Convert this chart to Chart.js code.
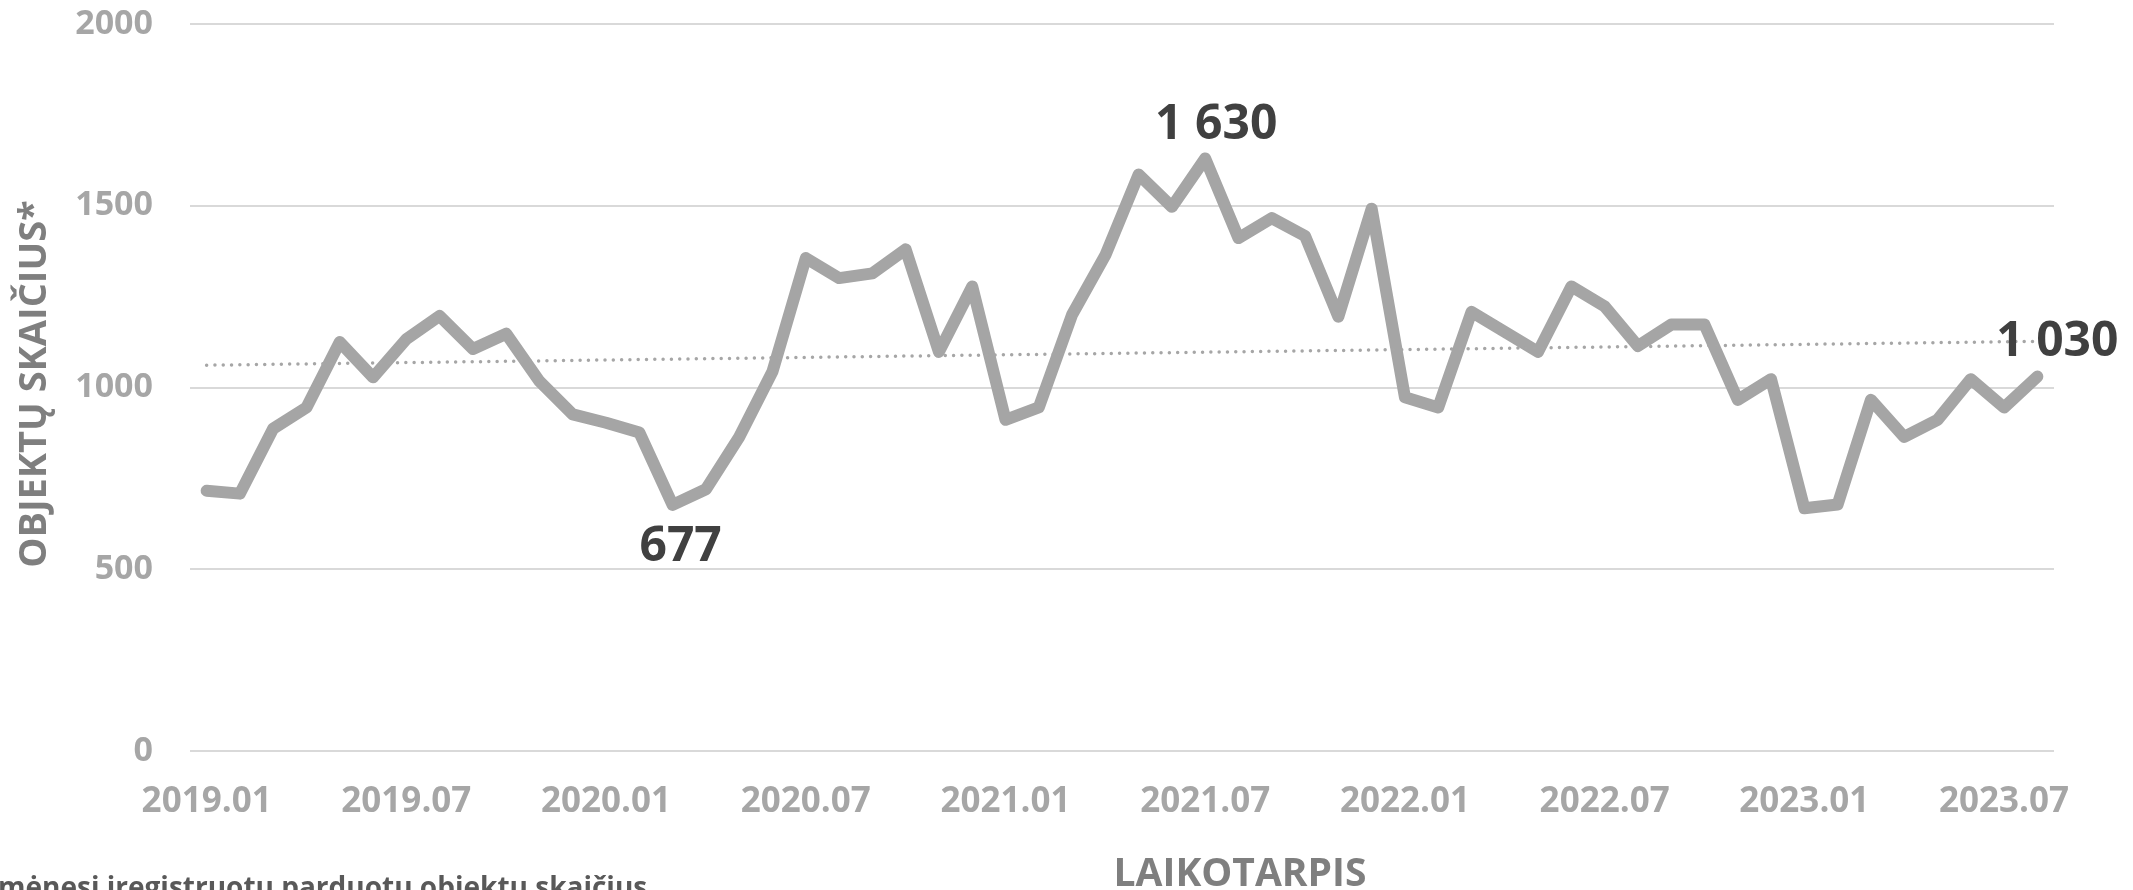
<!DOCTYPE html>
<html>
<head>
<meta charset="utf-8">
<script src="https://cdn.jsdelivr.net/npm/chart.js@4.4.0/dist/chart.umd.min.js"></script>
<style>
  html, body { margin: 0; padding: 0; background: #fff; }
  canvas { display: block; }
</style>
</head>
<body>
<canvas id="myChart" width="2133" height="890"></canvas>
<script>
var months =
       ["2019.01","2019.02","2019.03","2019.04","2019.05","2019.06","2019.07","2019.08","2019.09","2019.10","2019.11","2019.12",
        "2020.01","2020.02","2020.03","2020.04","2020.05","2020.06","2020.07","2020.08","2020.09","2020.10","2020.11","2020.12",
        "2021.01","2021.02","2021.03","2021.04","2021.05","2021.06","2021.07","2021.08","2021.09","2021.10","2021.11","2021.12",
        "2022.01","2022.02","2022.03","2022.04","2022.05","2022.06","2022.07","2022.08","2022.09","2022.10","2022.11","2022.12",
        "2023.01","2023.02","2023.03","2023.04","2023.05","2023.06","2023.07","2023.08"];

var sold =
       [716, 708, 887, 945, 1125, 1028, 1133, 1197, 1106, 1148, 1017, 926,
        903, 876, 677, 720, 864, 1044, 1356, 1301, 1314, 1380, 1098, 1278,
        911, 945, 1200, 1364, 1586, 1497, 1630, 1411, 1466, 1417, 1195, 1492,
        973, 945, 1208, 1153, 1098, 1278, 1223, 1114, 1173, 1173, 966, 1023,
        668, 678, 966, 864, 911, 1023, 945, 1030];

// months that get a value label
var marked = ["2020.03", "2021.07", "2023.08"];

var yTitle = "OBJEKTŲ SKAIČIUS*";
var xTitle = "LAIKOTARPIS";
var note = "mėnesį įregistruotų parduotų objektų skaičius";

// linear trend (least squares) over the monthly values
var n = sold.length, sx = 0, sy = 0, sxy = 0, sxx = 0;
for (var i = 0; i < n; i++) {
  sx += i; sy += sold[i]; sxy += i * sold[i]; sxx += i * i;
}
var slope = (n * sxy - sx * sy) / (n * sxx - sx * sx);
var icpt = (sy - slope * sx) / n;
var trend = sold.map(function(v, i) { return icpt + slope * i; });

function fmt(v) {
  return String(v).replace(/\B(?=(\d{3})+(?!\d))/g, " ");
}

var texts = {
  id: "texts",
  afterDatasetsDraw: function(chart) {
    var ctx = chart.ctx;
    var meta = chart.getDatasetMeta(0);
    // x shift, baseline shift from the point
    var off = [[8, 56], [11, -19], [20, -21]];
    ctx.save();
    ctx.fillStyle = "#404040";
    ctx.font = "bold 48px 'Open Sans'";
    ctx.textAlign = "center";
    ctx.textBaseline = "alphabetic";
    marked.forEach(function(m, k) {
      var i = months.indexOf(m);
      var pt = meta.data[i];
      ctx.fillText(fmt(sold[i]), pt.x + off[k][0], pt.y + off[k][1]);
    });

    ctx.fillStyle = "#7f7f7f";
    ctx.font = "bold 39px 'Open Sans'";
    ctx.fillText(xTitle, 1240, 886);

    ctx.save();
    ctx.translate(46, 384);
    ctx.rotate(-Math.PI / 2);
    ctx.font = "bold 38px 'Open Sans'";
    ctx.fillText(yTitle, 0, 0);
    ctx.restore();

    ctx.fillStyle = "#595959";
    ctx.font = "bold 28px 'Open Sans'";
    ctx.textAlign = "left";
    ctx.fillText(note, -2, 897);
    ctx.restore();
  }
};

var tickFont = { family: "'Open Sans'", size: 34, weight: "bold" };

new Chart("myChart", {
  type: "line",
  data: {
    labels: months,
    datasets: [{
      data: sold,
      borderColor: "#a5a5a5",
      borderWidth: 12,
      borderJoinStyle: "round",
      borderCapStyle: "round",
      pointRadius: 0,
      tension: 0,
      order: 2
    }, {
      data: trend,
      borderColor: "#a6a6a6",
      borderWidth: 3.5,
      borderDash: [0, 8.3],
      borderCapStyle: "round",
      pointRadius: 0,
      order: 1
    }]
  },
  options: {
    responsive: false,
    animation: false,
    layout: { padding: { top: 24, right: 79, bottom: 0, left: 0 } },
    plugins: {
      legend: { display: false },
      tooltip: { enabled: false }
    },
    scales: {
      x: {
        offset: true,
        grid: { display: false, drawTicks: false },
        border: { display: false },
        ticks: {
          autoSkip: false,
          maxRotation: 0,
          padding: 30,
          color: "#a6a6a6",
          font: { family: "'Open Sans'", size: 35, weight: "bold" },
          callback: function(v, i) { return i % 6 === 0 ? months[i] : ""; }
        },
        afterFit: function(s) { s.height = 139; }
      },
      y: {
        min: 0,
        max: 2000,
        ticks: {
          stepSize: 500,
          padding: 37,
          color: "#a6a6a6",
          font: tickFont,
          callback: function(v) { return String(v); }
        },
        grid: { color: "#d9d9d9", lineWidth: 2, drawTicks: false },
        border: { display: false },
        afterFit: function(s) { s.width = 190; s.paddingTop = 0; s.paddingBottom = 0; }
      }
    }
  },
  plugins: [texts]
});
</script>
</body>
</html>
